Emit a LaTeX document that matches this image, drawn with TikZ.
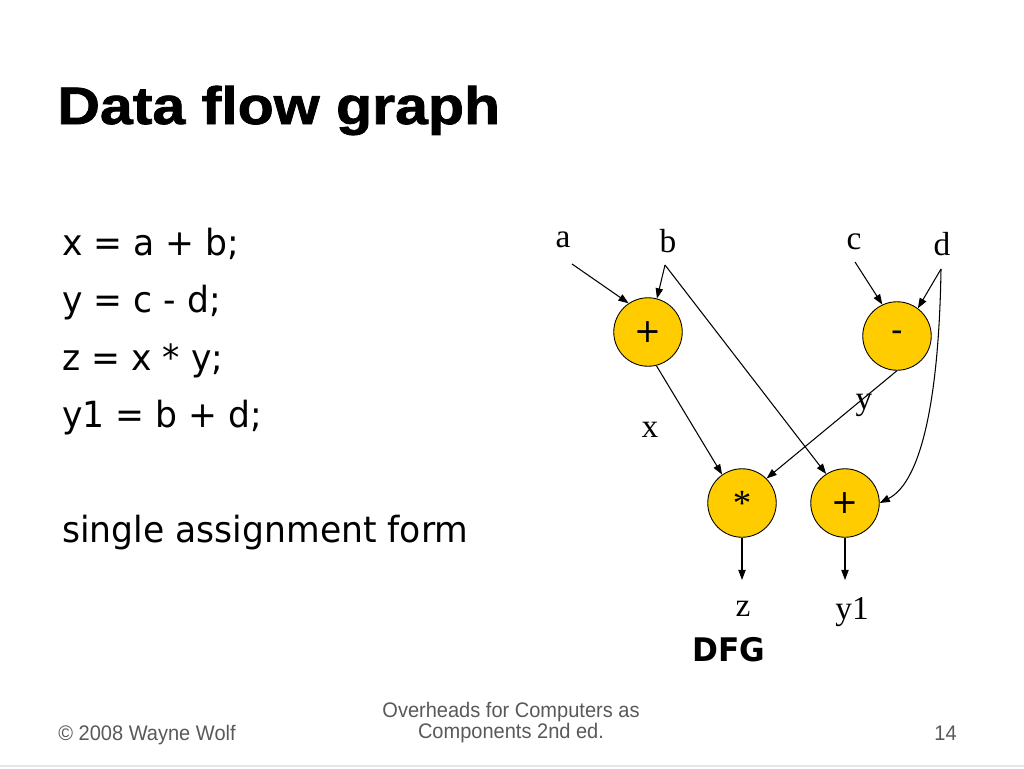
\documentclass[tikz,border=0pt]{standalone}
\usepackage{fontspec}
\setmainfont{Liberation Serif}
\newfontfamily\titlefont[FakeStretch=1.12, FakeBold=1.5]{Liberation Sans Bold}
\newfontfamily\codefont[FakeStretch=0.96]{DejaVu Sans}
\newfontfamily\footfont[FakeStretch=0.95]{Liberation Sans}
\usepackage{tikz}
\usetikzlibrary{arrows.meta}
\definecolor{opfill}{HTML}{FFCC00}
\definecolor{footgray}{HTML}{595959}

\begin{document}
\begin{tikzpicture}[x=0.02cm, y=-0.02cm,
    op/.style={circle, draw, line width=0.5pt, fill=opfill, minimum size=1.37cm, inner sep=0pt, font=\codefont\fontsize{19}{21}\selectfont},
    varlabel/.style={inner sep=0pt, font=\fontsize{19}{21}\selectfont},
    stmt/.style={anchor=base west, inner sep=0pt, font=\codefont\fontsize{20.5}{24}\selectfont},
    foot/.style={anchor=base, inner sep=0pt, text=footgray, font=\footfont\fontsize{12}{14}\selectfont},
    signal/.style={-{Triangle[length=5.8pt, width=4.2pt]}, line width=0.6pt}
]
\useasboundingbox (0,0) rectangle (1024,768);

% Title
\node[anchor=base west, inner sep=0pt, font=\titlefont\fontsize{30}{34}\selectfont] (title) at (57,124) {Data flow graph};

% Statements
\node[stmt] (stmtx) at (62,255) {x = a + b;};
\node[stmt] (stmty) at (62,312) {y = c - d;};
\node[stmt] (stmtz) at (62,370) {z = x * y;};
\node[stmt] (stmtyone) at (62,427) {y1 = b + d;};
\node[stmt] (sform) at (62,542) {single assignment form};

% Inputs
\node[varlabel] (ina) at (563,240) {a};
\node[varlabel] (inb) at (668,241) {b};
\node[varlabel] (inc) at (854,242) {c};
\node[varlabel] (ind) at (942,244) {d};
\coordinate (asrc) at (572,264);
\coordinate (bsrc) at (665,265);
\coordinate (csrc) at (855,262);
\coordinate (dsrc) at (941,269);

% Operators
\node[op] (addx) at (648,332) {+};
\node[op] (subc) at (897,336) {-};
\node[op, font=\fontsize{21}{23}\selectfont] (mulz) at (742,503) {*};
\node[op] (addy) at (845,503) {+};

% Edges into the first level
\draw[signal] (asrc) -- (addx.124);
\draw[signal] (bsrc) -- (addx.75);
\draw[signal] (csrc) -- (subc.115);
\draw[signal] (dsrc) -- (subc.53);

% Edges into the second level
\draw[signal] (addx.-76) -- (mulz.125);
\draw[signal] (subc.south) -- (mulz.45);
\draw[signal] (bsrc) -- (addy.123);
\draw[signal] (dsrc) .. controls (939,400) and (921,482) .. (addy.east);

% Edge labels
\node[varlabel] (labx) at (650,430) {x};
\node[varlabel] (laby) at (864,405) {y};

% Outputs
\coordinate (zend) at (742,580);
\coordinate (yoneend) at (845,580);
\draw[signal] (mulz.south) -- (zend);
\draw[signal] (addy.south) -- (yoneend);
\node[varlabel] (outz) at (743,609) {z};
\node[varlabel] (outyone) at (852,612) {y1};
\node[inner sep=0pt, font=\codefont\bfseries\fontsize{18.5}{20}\selectfont] (dfg) at (729,650) {DFG};

% Footer
\node[foot, anchor=base west] (copy) at (58,740) {\textcopyright{} 2008 Wayne Wolf};
\node[foot] (bookone) at (511,717) {Overheads for Computers as};
\node[foot] (booktwo) at (511,738) {Components 2nd ed.};
\node[foot, anchor=base east] (pageno) at (957,740) {14};
\draw[black!10, line width=0.6pt] (0,766) -- (1024,766);

\end{tikzpicture}
\end{document}
